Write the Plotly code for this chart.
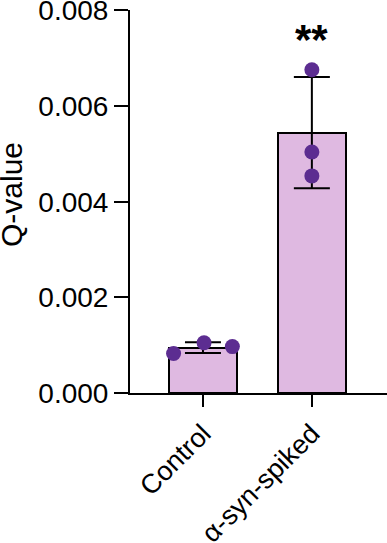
import numpy as np
import plotly.graph_objects as go

categories = ["Control", "α-syn-spiked"]
control_points = [0.000825, 0.00105, 0.00097]
syn_points = [0.00676, 0.00504, 0.00454]
control_offsets = [-0.27, 0.01, 0.27]
syn_offsets = [0.0, 0.0, 0.0]
y_ticks = [0.000, 0.002, 0.004, 0.006, 0.008]
y_ticklabels = ["0.000", "0.002", "0.004", "0.006", "0.008"]
y_title = "Q-value"
significance = "**"

groups = [control_points, syn_points]
means = [float(np.mean(g)) for g in groups]
sds = [float(np.std(g, ddof=1)) for g in groups]
xpos = list(range(len(categories)))

FONT = "Liberation Sans, Arial, sans-serif"
BAR_FILL = "#DFB9E1"
DOT = "#5C2D91"

fig = go.Figure()
fig.add_trace(go.Bar(
    x=xpos, y=means, width=0.63,
    marker=dict(color=BAR_FILL, line=dict(color="black", width=2)),
    error_y=dict(type="data", array=sds, visible=True, color="black",
                 thickness=2, width=18),
    showlegend=False, hoverinfo="skip",
))
for i, (pts, offs) in enumerate([(control_points, control_offsets), (syn_points, syn_offsets)]):
    fig.add_trace(go.Scatter(
        x=[xpos[i] + o for o in offs], y=pts, mode="markers",
        marker=dict(color=DOT, size=15, line=dict(width=0)),
        showlegend=False, hoverinfo="skip",
    ))

fig.add_annotation(x=xpos[1], y=0.0074, xref="x", yref="y", text="<b>" + significance + "</b>",
                   showarrow=False, font=dict(family=FONT, size=42, color="black"),
                   yanchor="middle")
fig.add_annotation(x=0, y=0.517, xref="paper", yref="paper", text=y_title, textangle=-90,
                   showarrow=False, font=dict(family=FONT, size=30, color="black"),
                   xanchor="center", yanchor="middle", xshift=-118)

fig.update_layout(
    width=387, height=543,
    margin=dict(l=130, r=0, t=10, b=150),
    plot_bgcolor="white", paper_bgcolor="white",
    font=dict(family=FONT, color="black"),
    bargap=0,
)
fig.update_xaxes(
    range=[-0.67, 1.69], tickmode="array", tickvals=xpos, ticktext=categories,
    tickangle=-45, tickfont=dict(family=FONT, size=27, color="black"),
    showline=True, linecolor="black", linewidth=2,
    ticks="outside", ticklen=12, tickwidth=2, tickcolor="black",
    showgrid=False, zeroline=False, ticklabeloverflow="allow", automargin=False,
)
fig.update_yaxes(
    range=[0, 0.00801], tickmode="array", tickvals=y_ticks, ticktext=y_ticklabels,
    tickfont=dict(family=FONT, size=28, color="black"),
    showline=True, linecolor="black", linewidth=2,
    ticks="outside", ticklen=14, tickwidth=2, tickcolor="black",
    showgrid=False, zeroline=False, ticklabeloverflow="allow", automargin=False,
)

fig.write_html("out.html", config={"displayModeBar": False},
               post_script="document.body.style.margin='0';document.body.style.padding='0';")
